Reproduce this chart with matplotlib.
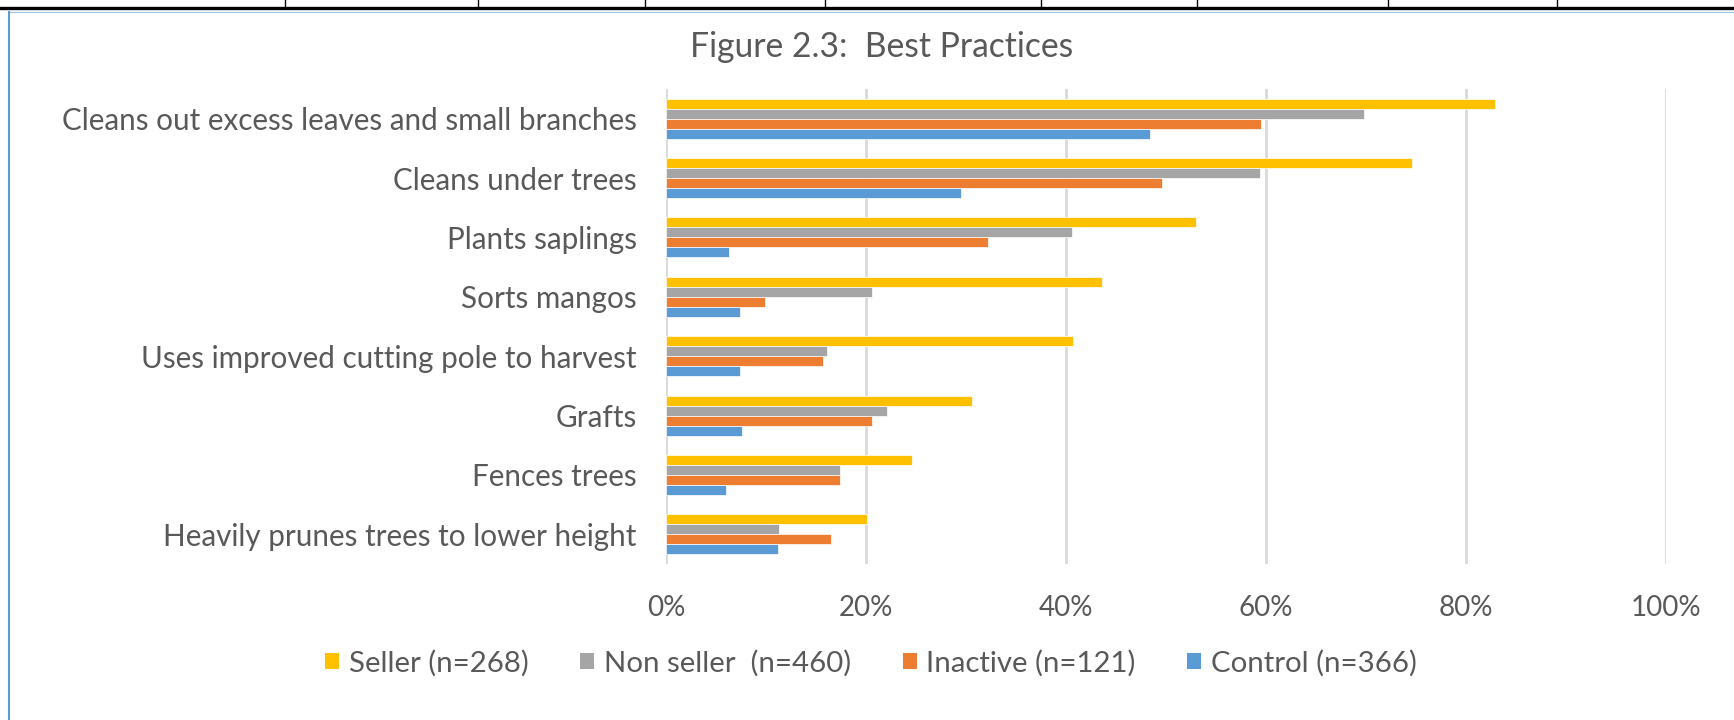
import matplotlib
matplotlib.use("Agg")
import matplotlib.pyplot as plt
import numpy as np
from matplotlib.lines import Line2D
from matplotlib.patches import Patch

plt.rcParams['font.family'] = ['Lato', 'DejaVu Sans']

# data
practices = ["Cleans out excess leaves and small branches",
             "Cleans under trees",
             "Plants saplings",
             "Sorts mangos",
             "Uses improved cutting pole to harvest",
             "Grafts",
             "Fences trees",
             "Heavily prunes trees to lower height"]
groups = ["Seller (n=268)", "Non seller  (n=460)", "Inactive (n=121)", "Control (n=366)"]
seller = [82.9, 74.6, 53.0, 43.6, 40.7, 30.6, 24.6, 20.1]
non_seller = [69.8, 59.4, 40.6, 20.6, 16.1, 22.1, 17.4, 11.3]
inactive = [59.5, 49.6, 32.2, 9.9, 15.7, 20.6, 17.4, 16.5]
control = [48.4, 29.5, 6.3, 7.4, 7.4, 7.6, 6.0, 11.2]
xticks = [0, 20, 40, 60, 80, 100]
xticklabels = ["0%", "20%", "40%", "60%", "80%", "100%"]

colors = ["#FFC000", "#A5A5A5", "#ED7D31", "#5B9BD5"]
text_c = "#595959"
W, H = 1734, 720

fig = plt.figure(figsize=(W / 100, H / 100), dpi=100)
ax = fig.add_axes([666 / W, 1 - 564 / H, 1000 / W, 475 / H])

y = np.arange(len(practices))
h = 0.168
series = [seller, non_seller, inactive, control]
for i, (vals, c) in enumerate(zip(series, colors)):
    ax.barh(y + (i - 1.5) * h, vals, height=h, color=c, edgecolor="white",
            linewidth=0.5, zorder=3)

ax.set_ylim(len(practices) - 0.5, -0.5)
ax.set_xlim(0, 100)
ax.set_yticks(y)
ax.set_yticklabels(practices, fontsize=21.3, color=text_c)
ax.set_xticks(xticks)
ax.set_xticklabels(xticklabels, fontsize=20, color=text_c)
ax.tick_params(axis="both", length=0)
ax.tick_params(axis="y", pad=21)
ax.tick_params(axis="x", pad=22)
ax.grid(axis="x", color="#D9D9D9", linewidth=2, zorder=0)
for s in ax.spines.values():
    s.set_visible(False)

fig.text(882 / W, 1 - 57 / H, "Figure 2.3:  Best Practices", ha="center",
         va="baseline", fontsize=24.2, color=text_c)

handles = [Patch(facecolor=c, edgecolor="none") for c in colors]
fig.legend(handles, groups, loc="center", bbox_to_anchor=(871 / W, 1 - 663 / H),
           ncol=4, frameon=False, fontsize=21.2, labelcolor=text_c,
           handlelength=0.48, handleheight=0.48, handletextpad=0.33,
           columnspacing=1.75)

# page border and table edge above the chart
fig.add_artist(Line2D([0, 1], [1 - 8 / H, 1 - 8 / H], color="black", linewidth=2.4))
for px in [285, 478, 645, 825, 1041, 1197, 1388, 1557]:
    fig.add_artist(Line2D([px / W, px / W], [1, 1 - 8 / H], color="black", linewidth=1))
fig.add_artist(Line2D([9 / W, 1], [1 - 12 / H, 1 - 12 / H], color="#9DC3E6", linewidth=0.8))
fig.add_artist(Line2D([9 / W, 9 / W], [0, 1 - 12 / H], color="#5B9BD5", linewidth=1.5))

fig.savefig("out.png", dpi=100)
